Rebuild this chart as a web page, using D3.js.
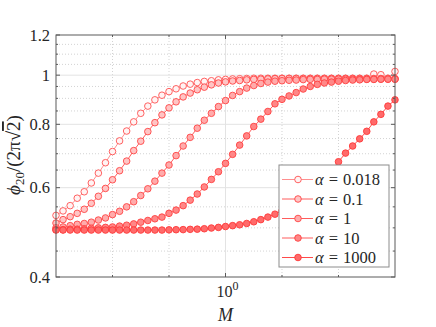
<!DOCTYPE html>
<html>
<head>
<meta charset="utf-8">
<script src="https://cdn.jsdelivr.net/npm/d3@7"></script>
<style>
  body { margin: 0; background: #fff; }
  text { font-family: "Liberation Serif", "DejaVu Serif", serif; fill: #262626; }
</style>
</head>
<body>
<div id="chart"></div>
<script>
// sample grid of M (log spaced)
var M = [0.1778, 0.1910, 0.2054, 0.2207, 0.2371, 0.2548, 0.2738, 0.2943, 0.3162, 0.3398,
         0.3652, 0.3924, 0.4217, 0.4532, 0.4870, 0.5233, 0.5623, 0.6043, 0.6494, 0.6978,
         0.7499, 0.8058, 0.8660, 0.9306, 1.0000, 1.075, 1.155, 1.241, 1.334, 1.433,
         1.540, 1.655, 1.778, 1.911, 2.054, 2.207, 2.371, 2.548, 2.738, 2.943,
         3.162, 3.398, 3.652, 3.924, 4.217, 4.532, 4.870, 5.233, 5.623];

var phi_a0018 = [0.529, 0.540, 0.553, 0.572, 0.589, 0.613, 0.641, 0.672, 0.707, 0.742,
                 0.776, 0.809, 0.841, 0.869, 0.894, 0.913, 0.928, 0.940, 0.952, 0.960,
                 0.967, 0.972, 0.975, 0.979, 0.981, 0.983, 0.984, 0.985, 0.986, 0.986,
                 0.986, 0.986, 0.986, 0.986, 0.986, 0.986, 0.986, 0.986, 0.986, 0.986,
                 0.986, 0.986, 0.986, 0.986, 0.986, 1.005, 1.002, 0.986, 1.017];

var phi_a01 = [0.511, 0.519, 0.526, 0.534, 0.544, 0.559, 0.577, 0.598, 0.622, 0.648,
               0.677, 0.710, 0.741, 0.774, 0.806, 0.835, 0.862, 0.886, 0.906, 0.922,
               0.936, 0.947, 0.957, 0.965, 0.970, 0.974, 0.976, 0.979, 0.981, 0.982,
               0.983, 0.984, 0.985, 0.985, 0.985, 0.985, 0.985, 0.985, 0.985, 0.985,
               0.985, 0.985, 0.985, 0.985, 0.985, 0.985, 0.985, 0.985, 0.985];

var phi_a1 = [0.500, 0.502, 0.505, 0.508, 0.510, 0.513, 0.518, 0.523, 0.531, 0.539,
              0.550, 0.563, 0.579, 0.597, 0.618, 0.641, 0.665, 0.694, 0.725, 0.754,
              0.786, 0.815, 0.841, 0.867, 0.891, 0.912, 0.928, 0.943, 0.954, 0.963,
              0.969, 0.973, 0.975, 0.977, 0.978, 0.980, 0.981, 0.981, 0.982, 0.982,
              0.982, 0.982, 0.982, 0.982, 0.982, 0.982, 0.982, 0.982, 0.982];

var phi_a10 = [0.496, 0.496, 0.497, 0.497, 0.498, 0.499, 0.500, 0.501, 0.502, 0.504,
               0.506, 0.509, 0.513, 0.517, 0.521, 0.525, 0.534, 0.542, 0.553, 0.567,
               0.583, 0.602, 0.623, 0.645, 0.670, 0.698, 0.728, 0.759, 0.792, 0.819,
               0.848, 0.878, 0.896, 0.910, 0.924, 0.939, 0.950, 0.959, 0.965, 0.969,
               0.973, 0.976, 0.978, 0.979, 0.981, 0.981, 0.982, 0.982, 0.982];

var phi_a1000 = [0.495, 0.495, 0.495, 0.495, 0.495, 0.495, 0.495, 0.495, 0.495, 0.495,
                 0.495, 0.495, 0.495, 0.495, 0.495, 0.495, 0.4955, 0.4958, 0.496, 0.4966,
                 0.497, 0.498, 0.4996, 0.501, 0.503, 0.505, 0.507, 0.510, 0.514, 0.519,
                 0.525, 0.532, 0.540, 0.549, 0.561, 0.574, 0.588, 0.606, 0.627, 0.650,
                 0.675, 0.702, 0.725, 0.749, 0.775, 0.809, 0.837, 0.869, 0.894];

var alphaLabels = ["0.018", "0.1", "1", "10", "1000"];
var seriesValues = [phi_a0018, phi_a01, phi_a1, phi_a10, phi_a1000];
var lineColors = ["#ff8f8f", "#ff5c5c", "#ff5c5c", "#ff5c5c", "#ff4a4a"];
var faceColors = ["#fff3f3", "#ffc4c4", "#ffabab", "#ff8787", "#ff6a6a"];
var edgeColors = ["#ff5050", "#ff4545", "#ff4545", "#ff4040", "#ff3838"];

var yMajor = [0.4, 0.6, 0.8, 1, 1.2];
var yMinor = [0.45, 0.5, 0.55, 0.65, 0.7, 0.75, 0.85, 0.9, 0.95, 1.05, 1.1, 1.15];
var xMajor = [1];
var xMinor = [0.3162, 0.5623, 1.778, 3.162];

var margin = { top: 35, right: 41, bottom: 50, left: 56 },
    width = 436 - margin.left - margin.right,
    height = 327 - margin.top - margin.bottom;

var svg = d3.select("#chart")
    .append("svg")
    .attr("width", 436)
    .attr("height", 327)
    .append("g")
    .attr("transform", "translate(" + margin.left + "," + margin.top + ")");

var x = d3.scaleLog().domain([M[0], M[M.length - 1]]).range([0, width]);
var y = d3.scaleLog().domain([0.4, 1.2]).range([height, 0]);

// grid
svg.selectAll(".ygrid-minor").data(yMinor).enter().append("line")
    .attr("x1", 0).attr("x2", width)
    .attr("y1", function (d) { return y(d) }).attr("y2", function (d) { return y(d) })
    .style("stroke", "#c8c8c8").style("stroke-dasharray", "1,2").style("stroke-width", 0.8);
svg.selectAll(".xgrid-minor").data(xMinor).enter().append("line")
    .attr("y1", 0).attr("y2", height)
    .attr("x1", function (d) { return x(d) }).attr("x2", function (d) { return x(d) })
    .style("stroke", "#c8c8c8").style("stroke-dasharray", "1,2").style("stroke-width", 0.8);
svg.selectAll(".ygrid").data([0.6, 0.8, 1]).enter().append("line")
    .attr("x1", 0).attr("x2", width)
    .attr("y1", function (d) { return y(d) }).attr("y2", function (d) { return y(d) })
    .style("stroke", "#e3e3e3").style("stroke-width", 1);
svg.selectAll(".xgrid").data(xMajor).enter().append("line")
    .attr("y1", 0).attr("y2", height)
    .attr("x1", function (d) { return x(d) }).attr("x2", function (d) { return x(d) })
    .style("stroke", "#e3e3e3").style("stroke-width", 1);

// series
var line = d3.line()
    .x(function (d) { return x(d[0]) })
    .y(function (d) { return y(d[1]) });

seriesValues.forEach(function (vals, k) {
    var pts = M.map(function (m, i) { return [m, vals[i]] });
    svg.append("path")
        .datum(pts)
        .attr("d", line)
        .style("fill", "none")
        .style("stroke", lineColors[k])
        .style("stroke-width", 1);
    svg.selectAll(".mk" + k).data(pts).enter().append("circle")
        .attr("cx", function (d) { return x(d[0]) })
        .attr("cy", function (d) { return y(d[1]) })
        .attr("r", 3.3)
        .style("fill", faceColors[k])
        .style("stroke", edgeColors[k])
        .style("stroke-width", 0.9);
});

// box and ticks
svg.append("rect")
    .attr("width", width).attr("height", height)
    .style("fill", "none").style("stroke", "#5a5a5a").style("stroke-width", 1);

function yTicks(vals, len) {
    vals.forEach(function (v) {
        svg.append("line").attr("x1", 0).attr("x2", len).attr("y1", y(v)).attr("y2", y(v))
            .style("stroke", "#5a5a5a");
        svg.append("line").attr("x1", width).attr("x2", width - len).attr("y1", y(v)).attr("y2", y(v))
            .style("stroke", "#5a5a5a");
    });
}
function xTicks(vals, len) {
    vals.forEach(function (v) {
        svg.append("line").attr("y1", height).attr("y2", height - len).attr("x1", x(v)).attr("x2", x(v))
            .style("stroke", "#5a5a5a");
        svg.append("line").attr("y1", 0).attr("y2", len).attr("x1", x(v)).attr("x2", x(v))
            .style("stroke", "#5a5a5a");
    });
}
yTicks(yMajor, 4);
yTicks(yMinor, 2);
xTicks(xMajor, 4);
xTicks(xMinor, 2);

svg.selectAll(".ylab").data(yMajor).enter().append("text")
    .attr("x", -6)
    .attr("y", function (d) { return y(d) + 5.5 })
    .attr("text-anchor", "end")
    .style("font-size", "16.5px")
    .text(function (d) { return d3.format("~g")(d) });

var xl = svg.append("text")
    .attr("x", x(1) + 2)
    .attr("y", height + 20)
    .attr("text-anchor", "middle")
    .style("font-size", "16px");
xl.append("tspan").text("10");
xl.append("tspan").attr("dy", -7).style("font-size", "12px").text("0");

svg.append("text")
    .attr("x", x(1))
    .attr("y", height + 44)
    .attr("text-anchor", "middle")
    .style("font-size", "18px")
    .style("font-style", "italic")
    .text("M");

var yl = svg.append("text")
    .attr("transform", "translate(" + (20 - margin.left) + "," + (155 - margin.top) + ") rotate(-90)")
    .attr("text-anchor", "middle")
    .style("font-size", "19px");
yl.append("tspan").style("font-style", "italic").text("ϕ");
yl.append("tspan").attr("dy", 4).style("font-size", "13px").text("20");
yl.append("tspan").attr("dy", -4).text("/(2π");
yl.append("tspan").text("√");
yl.append("tspan").style("text-decoration", "overline").text("2");
yl.append("tspan").text(")");

// legend
var lg = svg.append("g").attr("transform", "translate(" + (279 - margin.left) + "," + (165 - margin.top) + ")");
lg.append("rect").attr("width", 110).attr("height", 102)
    .style("fill", "#fff").style("stroke", "#8c8c8c").style("stroke-width", 1);
alphaLabels.forEach(function (a, k) {
    var yy = 14.5 + k * 19.5;
    lg.append("line").attr("x1", 3).attr("x2", 34).attr("y1", yy).attr("y2", yy)
        .style("stroke", lineColors[k]);
    lg.append("circle").attr("cx", 19).attr("cy", yy).attr("r", 3.3)
        .style("fill", faceColors[k]).style("stroke", edgeColors[k]).style("stroke-width", 0.9);
    var t = lg.append("text").attr("x", 36).attr("y", yy + 5.5).style("font-size", "16.5px");
    t.append("tspan").style("font-style", "italic").text("α");
    t.append("tspan").attr("dx", 5).text("=");
    t.append("tspan").attr("dx", 5).text(a);
});
</script>
</body>
</html>
